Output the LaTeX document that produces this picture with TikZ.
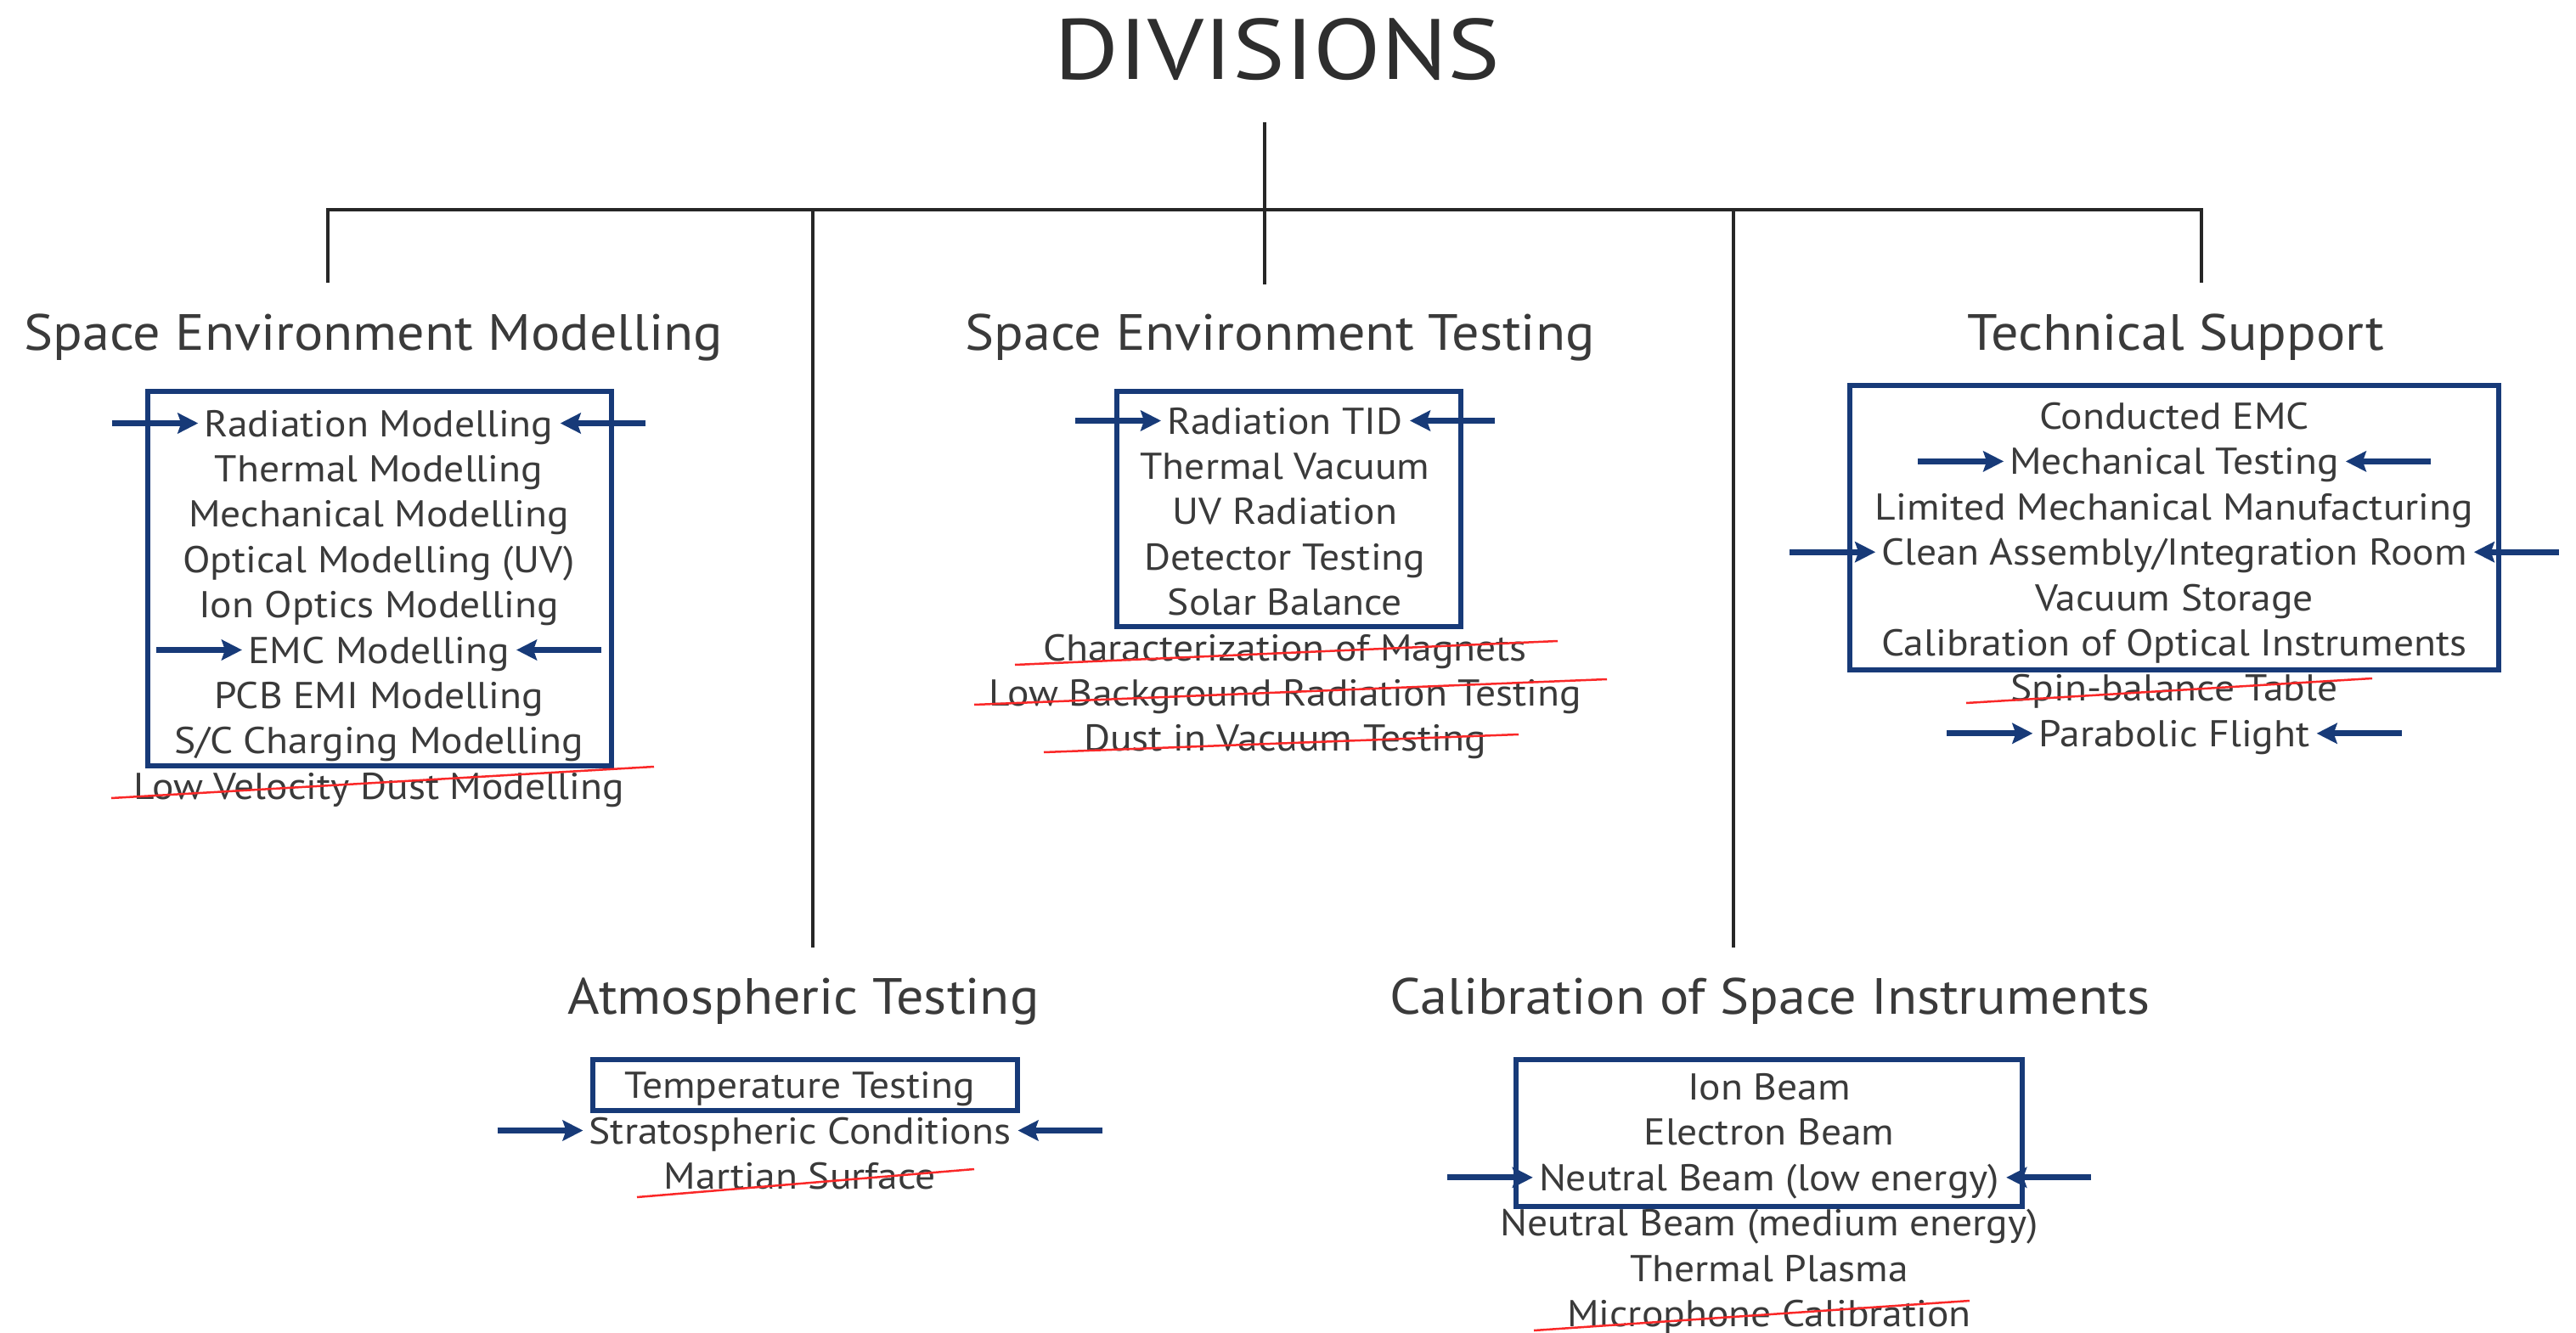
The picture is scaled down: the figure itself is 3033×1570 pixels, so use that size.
\documentclass[tikz,border=0pt]{standalone}
\usepackage{fontspec}
\setmainfont{PT Sans}
\newfontfamily\itemfont{PT Sans}[FakeStretch=1.08]
\newfontfamily\headfont{PT Sans}[FakeStretch=1.07]
\newfontfamily\titlefont{PT Sans}[FakeStretch=1.15]
\usetikzlibrary{arrows.meta,calc}
\definecolor{navy}{RGB}{23,58,120}
\definecolor{txt}{RGB}{58,58,58}
\definecolor{ttl}{RGB}{46,46,46}
\definecolor{strike}{RGB}{250,40,40}
\newcommand{\bothways}[1]{%
  \draw[arr] ($(#1.west)+(-108,0)$) -- ($(#1.west)+(-7,0)$);
  \draw[arr] ($(#1.east)+(108,0)$) -- ($(#1.east)+(8,0)$);}
\begin{document}
\begin{tikzpicture}[x=1pt,y=-1pt,
  item/.style={font=\itemfont\fontsize{44}{52}\selectfont, text=txt, anchor=base, inner sep=0pt, text height=31pt, text depth=0pt},
  head/.style={font=\headfont\fontsize{60}{70}\selectfont, text=txt, anchor=base, inner sep=0pt},
  grp/.style={draw=navy, line width=6pt, inner sep=0pt},
  arr/.style={navy, line width=7pt, -{Stealth[length=24pt,width=24pt,inset=4pt]}},
  cut/.style={strike, line width=2.5pt},
  tree/.style={draw=black!85, line width=3.5pt}]
\useasboundingbox (0,0) rectangle (3033,1570);

% title
\node[font=\titlefont\fontsize{101}{120}\selectfont, text=ttl, anchor=base, inner sep=0pt] (title) at (1504,94) {DIVISIONS};

% tree
\coordinate (top) at (1489,144);
\coordinate (c1) at (386,247);
\coordinate (c2) at (957,247);
\coordinate (c3) at (1489,247);
\coordinate (c4) at (2041,247);
\coordinate (c5) at (2592,247);
\coordinate (d1) at (386,333);
\coordinate (d2) at (957,1116);
\coordinate (d3) at (1489,335);
\coordinate (d4) at (2041,1116);
\coordinate (d5) at (2592,333);
\draw[tree] (top) -- (d3);
\draw[tree] (d1) -- (c1) -- (c5) -- (d5);
\draw[tree] (c2) -- (d2);
\draw[tree] (c4) -- (d4);

% headers
\node[head] (h1) at (440,412) {Space Environment Modelling};
\node[head] (h2) at (1507,412) {Space Environment Testing};
\node[head] (h3) at (2562,412) {Technical Support};
\node[head] (h4) at (946,1194) {Atmospheric Testing};
\node[head] (h5) at (2084,1194) {Calibration of Space Instruments};

% boxes
\node[grp, minimum width=546, minimum height=441] (b1) at (447,681.5) {};
\node[grp, minimum width=405, minimum height=277] (b2) at (1517.5,599.5) {};
\node[grp, minimum width=764, minimum height=335] (b3) at (2560,621.5) {};
\node[grp, minimum width=500, minimum height=60] (b4) at (948,1278) {};
\node[grp, minimum width=596, minimum height=173] (b5) at (2083,1334.5) {};

% Space Environment Modelling
\node[item] (s1) at (446,514) {Radiation Modelling};
\node[item] (s2) at (446,567.4) {Thermal Modelling};
\node[item] (s3) at (446,620.8) {Mechanical Modelling};
\node[item] (s4) at (446,674.2) {Optical Modelling (UV)};
\node[item] (s5) at (446,727.6) {Ion Optics Modelling};
\node[item] (s6) at (446,781) {EMC Modelling};
\node[item] (s7) at (446,834.4) {PCB EMI Modelling};
\node[item] (s8) at (446,887.8) {S/C Charging Modelling};
\node[item] (s9) at (446,941.2) {Low Velocity Dust Modelling};

% Space Environment Testing
\node[item] (t1) at (1513,511) {Radiation TID};
\node[item] (t2) at (1513,564.4) {Thermal Vacuum};
\node[item] (t3) at (1513,617.8) {UV Radiation};
\node[item] (t4) at (1513,671.2) {Detector Testing};
\node[item] (t5) at (1513,724.6) {Solar Balance};
\node[item] (t6) at (1513,778) {Characterization of Magnets};
\node[item] (t7) at (1513,831.4) {Low Background Radiation Testing};
\node[item] (t8) at (1513,884.8) {Dust in Vacuum Testing};

% Technical Support
\node[item] (u1) at (2560,505.5) {Conducted EMC};
\node[item] (u2) at (2560,558.9) {Mechanical Testing};
\node[item] (u3) at (2560,612.3) {Limited Mechanical Manufacturing};
\node[item] (u4) at (2560,665.7) {Clean Assembly/Integration Room};
\node[item] (u5) at (2560,719.1) {Vacuum Storage};
\node[item] (u6) at (2560,772.5) {Calibration of Optical Instruments};
\node[item] (u7) at (2560,825.9) {Spin-balance Table};
\node[item] (u8) at (2560,879.3) {Parabolic Flight};

% Atmospheric Testing
\node[item] (v1) at (942,1293.5) {Temperature Testing};
\node[item] (v2) at (942,1347) {Stratospheric Conditions};
\node[item] (v3) at (942,1400.5) {Martian Surface};

% Calibration of Space Instruments
\node[item] (w1) at (2083,1295.5) {Ion Beam};
\node[item] (w2) at (2083,1348.9) {Electron Beam};
\node[item] (w3) at (2083,1402.3) {Neutral Beam (low energy)};
\node[item] (w4) at (2083,1455.7) {Neutral Beam (medium energy)};
\node[item] (w5) at (2083,1509.1) {Thermal Plasma};
\node[item] (w6) at (2083,1562.5) {Microphone Calibration};

% arrows
\bothways{s1}
\bothways{s6}
\bothways{t1}
\bothways{u2}
\bothways{u4}
\bothways{u8}
\bothways{v2}
\bothways{w3}

% strike-throughs
\draw[cut] (131,940) -- (770,903);
\draw[cut] (1195,783) -- (1834,755);
\draw[cut] (1147,830) -- (1892,800);
\draw[cut] (1229,886) -- (1788,865);
\draw[cut] (2315,828) -- (2793,799);
\draw[cut] (750,1410) -- (1147,1377);
\draw[cut] (1806,1567) -- (2319,1532);
\end{tikzpicture}
\end{document}
